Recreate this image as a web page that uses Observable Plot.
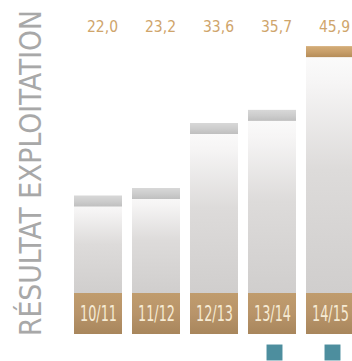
<!DOCTYPE html>
<html>
<head>
<meta charset="utf-8">
<script src="https://cdn.jsdelivr.net/npm/d3@7"></script>
<script src="https://cdn.jsdelivr.net/npm/@observablehq/plot@0.6"></script>
<style>
  html, body { margin: 0; padding: 0; background: #ffffff; }
  #chart { width: 352px; height: 361px; overflow: hidden; }
</style>
</head>
<body>
<div id="chart"></div>
<script>
const years = ["10/11", "11/12", "12/13", "13/14", "14/15"];
const values = [22.0, 23.2, 33.6, 35.7, 45.9];
const valueLabels = ["22,0", "23,2", "33,6", "35,7", "45,9"];
const markedYears = ["13/14", "14/15"];
const highlightYear = "14/15";
const axisLabel = "RÉSULTAT EXPLOITATION";

const data = years.map((year, i) => ({ year, value: values[i], label: valueLabels[i] }));
const FONT = "'DejaVu Sans Condensed', 'Liberation Sans Narrow', 'DejaVu Sans', sans-serif";

const chart = Plot.plot({
  width: 352,
  height: 361,
  margin: 0,
  style: { background: "#ffffff", fontFamily: FONT },
  x: { type: "band", domain: years, range: [69, 359], paddingInner: 0.17, paddingOuter: 0.085, axis: null },
  y: { domain: [0, 50], range: [333, 20.5], axis: null },
  marks: [
    Plot.barY(data, { x: "year", y1: 0, y2: "value", insetBottom: 40, fill: "url(#bodyGrad)" }),
    Plot.barY(data, { x: "year", y1: 0, y2: 0, insetTop: -40, insetBottom: -1, fill: "url(#bandGrad)" }),
    Plot.barY(data, { filter: d => d.year !== highlightYear, x: "year", y1: "value", y2: "value", insetBottom: -11, fill: "url(#capGray)" }),
    Plot.barY(data, { filter: d => d.year === highlightYear, x: "year", y1: "value", y2: "value", insetBottom: -11, fill: "url(#capTan)" }),
    Plot.text(data, { className: "vlabel", x: "year", frameAnchor: "top", lineAnchor: "middle", dy: 26, dx: 4, text: "label", fontSize: 16, fill: "#cfa56b", fontFamily: FONT }),
    Plot.text(data, { className: "ylabel", x: "year", y: 0, dy: -20, lineAnchor: "middle", text: "year", fontSize: 22, fill: "#f6ebd4", fontFamily: FONT }),
    Plot.dot(markedYears, { x: d => d, frameAnchor: "bottom", dy: -9, dx: 2, symbol: "square", r: 9, fill: "#4d8e9e" }),
    Plot.text([axisLabel], { className: "alabel", frameAnchor: "left", textAnchor: "middle", lineAnchor: "middle", dx: 31, dy: -8, rotate: -90, text: d => d, fontSize: 30, fill: "#a8a8a8", fontFamily: FONT })
  ]
});

const svg = d3.select(chart);
const defs = svg.insert("defs", ":first-child");
function grad(id, stops) {
  const g = defs.append("linearGradient").attr("id", id).attr("x1", 0).attr("y1", 0).attr("x2", 0).attr("y2", 1);
  stops.forEach(([o, c]) => g.append("stop").attr("offset", o).attr("stop-color", c));
}
grad("bodyGrad", [[0, "#fdfdfd"], [0.15, "#f6f5f5"], [0.5, "#dddbda"], [1, "#d0cecd"]]);
grad("bandGrad", [[0, "#c09c6d"], [0.5, "#b8946a"], [1, "#a8865c"]]);
grad("capGray", [[0, "#d8d8d8"], [0.5, "#cdcdcd"], [1, "#bfbfbf"]]);
grad("capTan", [[0, "#d4ac77"], [0.5, "#c89f6a"], [1, "#b58c58"]]);

svg.selectAll(".vlabel text").attr("textLength", 31).attr("lengthAdjust", "spacingAndGlyphs");
svg.selectAll(".ylabel text").attr("textLength", 37).attr("lengthAdjust", "spacingAndGlyphs");
svg.selectAll(".alabel text").attr("textLength", 326).attr("lengthAdjust", "spacingAndGlyphs");

document.getElementById("chart").appendChild(chart);
</script>
</body>
</html>
